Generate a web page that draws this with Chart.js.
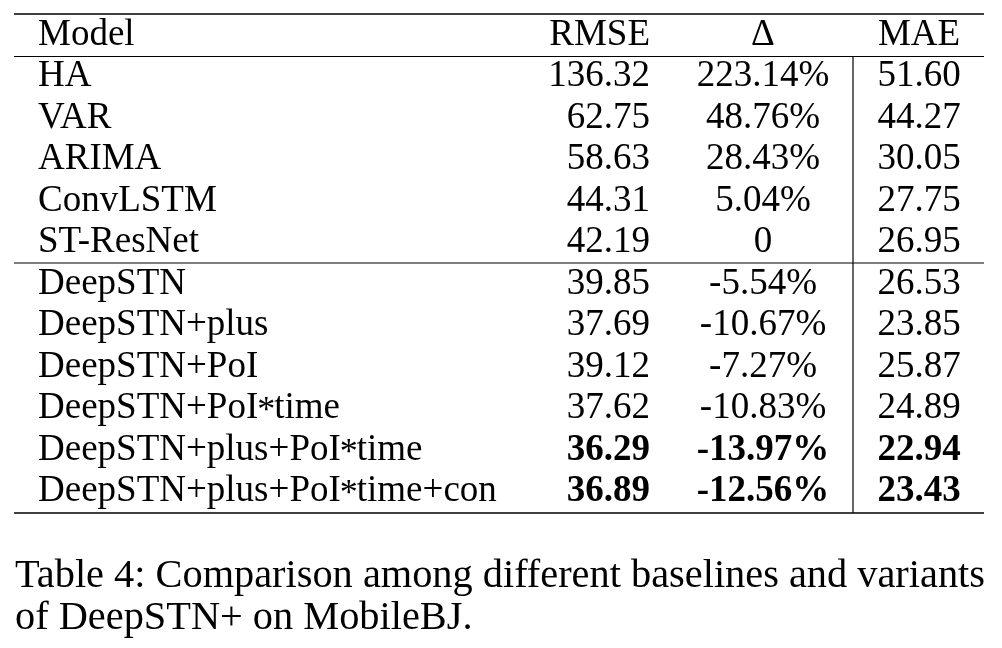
<!DOCTYPE html>
<html>
<head>
<meta charset="utf-8">
<script src="https://cdn.jsdelivr.net/npm/chart.js@4/dist/chart.umd.min.js"></script>
<style>
  html, body { margin: 0; padding: 0; background: #fff; }
  #wrap { width: 1002px; height: 648px; position: relative; }
</style>
</head>
<body>
<div id="wrap"><canvas id="tbl"></canvas></div>
<script>
'use strict'

var header = ['Model', 'RMSE', '\u0394', 'MAE'];
var models = [
  'HA', 'VAR', 'ARIMA', 'ConvLSTM', 'ST-ResNet',
  'DeepSTN', 'DeepSTN+plus', 'DeepSTN+PoI', 'DeepSTN+PoI\u2217time',
  'DeepSTN+plus+PoI\u2217time', 'DeepSTN+plus+PoI\u2217time+con'];
var rmse = ['136.32', '62.75', '58.63', '44.31', '42.19', '39.85', '37.69', '39.12', '37.62', '36.29', '36.89'];
var delta = ['223.14%', '48.76%', '28.43%', '5.04%', '0', '-5.54%', '-10.67%', '-7.27%', '-10.83%', '-13.97%', '-12.56%'];
var mae = ['51.60', '44.27', '30.05', '27.75', '26.95', '26.53', '23.85', '25.87', '24.89', '22.94', '23.43'];
var bestRows = [9, 10];
var caption = ['Table 4: Comparison among different baselines and variants', 'of DeepSTN+ on MobileBJ.'];

var rowLabels = [header[0]].concat(models);

// column anchors on the x scale (0..1002)
var colX = { model: 38, rmse: 650, delta: 763, mae: 919, vline: 853, left: 14, right: 984 };
var FONT = '"Liberation Serif", "Times New Roman", serif';

var tablePlugin = {
  id: 'tablePlugin',
  afterDraw: function (chart) {
    var c = chart.ctx, x = chart.scales.x, y = chart.scales.y;
    c.save();
    c.fillStyle = '#000';
    c.strokeStyle = '#000';

    function rule(yy, w) {
      c.lineWidth = w;
      c.beginPath();
      c.moveTo(x.getPixelForValue(colX.left), yy);
      c.lineTo(x.getPixelForValue(colX.right), yy);
      c.stroke();
    }
    var topY = y.getPixelForValue(-0.5) + 2;
    var headY = y.getPixelForValue(0.5) + 3;
    var midY = y.getPixelForValue(5.5) + 2;
    var botY = y.getPixelForValue(11.5) + 3;
    rule(topY, 1.6);
    rule(headY, 1.2);
    rule(midY, 1.2);
    rule(botY, 1.6);
    c.lineWidth = 1.2;
    c.beginPath();
    c.moveTo(x.getPixelForValue(colX.vline), headY);
    c.lineTo(x.getPixelForValue(colX.vline), botY);
    c.stroke();

    function txt(s, col, row, align, bold) {
      c.font = (bold ? 'bold ' : '') + '37px ' + FONT;
      c.textAlign = align;
      c.textBaseline = 'alphabetic';
      c.fillText(s, x.getPixelForValue(col), y.getPixelForValue(row) + 12);
    }
    // left-aligned model name; the math asterisk is drawn centred on the x-height
    function modelTxt(s, row) {
      var px = x.getPixelForValue(colX.model), py = y.getPixelForValue(row) + 12;
      c.textAlign = 'left';
      c.textBaseline = 'alphabetic';
      s.split(/(\u2217)/).forEach(function (part) {
        if (!part) return;
        if (part === '\u2217') {
          c.font = '36px ' + FONT;
          c.fillText('*', px - 1, py + 3);
          px += 16;
        } else {
          c.font = '37px ' + FONT;
          c.fillText(part, px, py);
          px += c.measureText(part).width;
        }
      });
    }
    txt(header[0], colX.model, 0, 'left');
    txt(header[1], colX.rmse, 0, 'right');
    txt(header[2], colX.delta, 0, 'center');
    txt(header[3], colX.mae, 0, 'center');
    models.forEach(function (m, i) {
      var r = i + 1, b = bestRows.indexOf(i) >= 0;
      modelTxt(m, r);
      txt(rmse[i], colX.rmse, r, 'right', b);
      txt(delta[i], colX.delta, r, 'center', b);
      txt(mae[i], colX.mae, r, 'center', b);
    });

    // caption, squeezed to the table width like the original
    c.font = '40px ' + FONT;
    c.textAlign = 'left';
    var w0 = c.measureText(caption[0]).width;
    var sx = (x.getPixelForValue(985) - x.getPixelForValue(15)) / w0;
    c.save();
    c.translate(x.getPixelForValue(15), 0);
    c.scale(sx, 1);
    c.fillText(caption[0], 0, 587);
    c.fillText(caption[1], 0, 629);
    c.restore();

    c.restore();
  }
};

var ctx = document.getElementById('tbl');
var chart = new Chart(ctx, {
  type: 'scatter',
  data: { datasets: [] },
  options: {
    responsive: true,
    maintainAspectRatio: false,
    animation: false,
    layout: { padding: { top: 12, bottom: 138, left: 0, right: 0 } },
    plugins: { legend: { display: false }, tooltip: { enabled: false } },
    scales: {
      x: { type: 'linear', min: 0, max: 1002, display: false },
      y: { type: 'category', labels: rowLabels, offset: true, display: false }
    }
  },
  plugins: [tablePlugin]
});
</script>
</body>
</html>
